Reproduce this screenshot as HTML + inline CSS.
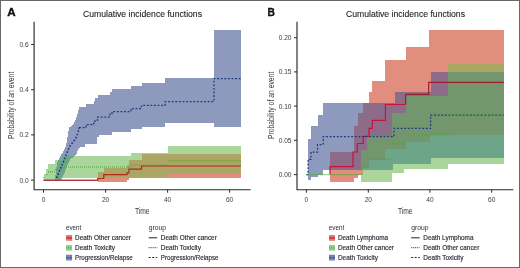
<!DOCTYPE html>
<html lang="en">
<head>
<meta charset="utf-8">
<title>Cumulative incidence functions</title>
<style>
html,body{margin:0;padding:0;background:#fff;}
body{width:520px;height:268px;overflow:hidden;position:relative;font-family:"Liberation Sans",sans-serif;}
#fig{position:absolute;left:0;top:0;width:520px;height:268px;box-sizing:border-box;border:1px solid #686868;background:#fff;}
svg{position:absolute;left:0;top:0;display:block;}
text{font-family:"Liberation Sans",sans-serif;fill:#2b2b2b;}
.tk{font-size:6.6px;fill:#3c3c3c;}
.lg{font-size:6.9px;fill:#262a33;stroke:#262a33;stroke-width:0.15px;}
.lt{font-size:6.4px;fill:#2c2f36;}
.ti{font-size:8.8px;fill:#1c1c1c;stroke:#1c1c1c;stroke-width:0.1px;}
.al{font-size:9.5px;fill:#383838;}
.pl{font-size:10px;font-weight:bold;fill:#111;stroke:#111;stroke-width:0.35px;}
</style>
</head>
<body>
<div id="fig"></div>
<svg width="520" height="268" viewBox="0 0 520 268">
<g shape-rendering="crispEdges">
<rect x="214" y="30" width="27" height="97" fill="#8e9abd"/>
<rect x="165" y="78" width="49" height="45" fill="#8e9abd"/>
<rect x="142" y="83" width="23" height="44" fill="#8e9abd"/>
<rect x="131" y="86" width="11" height="43" fill="#8e9abd"/>
<rect x="112" y="89" width="19" height="43" fill="#8e9abd"/>
<rect x="110" y="92" width="2" height="43" fill="#8e9abd"/>
<rect x="99" y="95" width="11" height="40" fill="#8e9abd"/>
<rect x="98" y="95" width="1" height="42" fill="#8e9abd"/>
<rect x="97" y="98" width="1" height="39" fill="#8e9abd"/>
<rect x="95" y="98" width="2" height="46" fill="#8e9abd"/>
<rect x="94" y="101" width="1" height="43" fill="#8e9abd"/>
<rect x="86" y="104" width="8" height="40" fill="#8e9abd"/>
<rect x="85" y="107" width="1" height="37" fill="#8e9abd"/>
<rect x="80" y="107" width="5" height="40" fill="#8e9abd"/>
<rect x="79" y="107" width="1" height="41" fill="#8e9abd"/>
<rect x="78" y="110" width="1" height="39" fill="#8e9abd"/>
<rect x="77" y="114" width="1" height="37" fill="#8e9abd"/>
<rect x="76" y="117" width="1" height="37" fill="#8e9abd"/>
<rect x="75" y="120" width="1" height="35" fill="#8e9abd"/>
<rect x="74" y="122" width="1" height="34" fill="#8e9abd"/>
<rect x="73" y="124" width="1" height="32" fill="#8e9abd"/>
<rect x="72" y="125" width="1" height="31" fill="#8e9abd"/>
<rect x="71" y="126" width="1" height="30" fill="#8e9abd"/>
<rect x="69" y="127" width="2" height="29" fill="#8e9abd"/>
<rect x="68" y="131" width="1" height="25" fill="#8e9abd"/>
<rect x="67" y="137" width="1" height="19" fill="#8e9abd"/>
<rect x="66" y="143" width="1" height="13" fill="#8e9abd"/>
<rect x="65" y="147" width="1" height="9" fill="#8e9abd"/>
<rect x="64" y="149" width="1" height="7" fill="#8e9abd"/>
<rect x="63" y="151" width="1" height="5" fill="#8e9abd"/>
<rect x="62" y="153" width="1" height="3" fill="#8e9abd"/>
<rect x="61" y="154" width="1" height="6" fill="#8e9abd"/>
<rect x="60" y="156" width="1" height="4" fill="#8e9abd"/>
<rect x="59" y="158" width="1" height="2" fill="#8e9abd"/>
<rect x="55" y="179" width="6" height="1" fill="#8e9abd"/>
<rect x="73" y="156" width="1" height="1" fill="#6ca587"/>
<rect x="71" y="156" width="2" height="2" fill="#6ca587"/>
<rect x="70" y="156" width="1" height="3" fill="#6ca587"/>
<rect x="69" y="156" width="1" height="5" fill="#6ca587"/>
<rect x="68" y="156" width="1" height="7" fill="#6ca587"/>
<rect x="67" y="156" width="1" height="9" fill="#6ca587"/>
<rect x="66" y="156" width="1" height="11" fill="#6ca587"/>
<rect x="65" y="156" width="1" height="14" fill="#6ca587"/>
<rect x="64" y="156" width="1" height="17" fill="#6ca587"/>
<rect x="63" y="156" width="1" height="19" fill="#6ca587"/>
<rect x="62" y="156" width="1" height="21" fill="#6ca587"/>
<rect x="58" y="160" width="4" height="19" fill="#6ca587"/>
<rect x="57" y="162" width="1" height="17" fill="#6ca587"/>
<rect x="56" y="167" width="1" height="12" fill="#6ca587"/>
<rect x="55" y="175" width="1" height="4" fill="#6ca587"/>
<rect x="168" y="146" width="73" height="8" fill="#aad69b"/>
<rect x="142" y="153" width="26" height="1" fill="#aad69b"/>
<rect x="131" y="153" width="11" height="7" fill="#aad69b"/>
<rect x="129" y="156" width="2" height="4" fill="#aad69b"/>
<rect x="127" y="156" width="2" height="9" fill="#aad69b"/>
<rect x="104" y="156" width="23" height="12" fill="#aad69b"/>
<rect x="98" y="156" width="6" height="16" fill="#aad69b"/>
<rect x="74" y="156" width="24" height="22" fill="#aad69b"/>
<rect x="73" y="157" width="1" height="21" fill="#aad69b"/>
<rect x="71" y="158" width="2" height="20" fill="#aad69b"/>
<rect x="70" y="159" width="1" height="19" fill="#aad69b"/>
<rect x="57" y="160" width="1" height="2" fill="#aad69b"/>
<rect x="56" y="160" width="1" height="7" fill="#aad69b"/>
<rect x="55" y="160" width="1" height="15" fill="#aad69b"/>
<rect x="69" y="161" width="1" height="17" fill="#aad69b"/>
<rect x="68" y="163" width="1" height="15" fill="#aad69b"/>
<rect x="48" y="164" width="7" height="16" fill="#aad69b"/>
<rect x="67" y="165" width="1" height="13" fill="#aad69b"/>
<rect x="66" y="167" width="1" height="11" fill="#aad69b"/>
<rect x="46" y="169" width="2" height="11" fill="#aad69b"/>
<rect x="65" y="170" width="1" height="8" fill="#aad69b"/>
<rect x="64" y="173" width="1" height="5" fill="#aad69b"/>
<rect x="44" y="174" width="2" height="6" fill="#aad69b"/>
<rect x="63" y="175" width="1" height="3" fill="#aad69b"/>
<rect x="62" y="177" width="1" height="1" fill="#aad69b"/>
<rect x="168" y="154" width="73" height="20" fill="#aca564"/>
<rect x="142" y="154" width="26" height="23" fill="#aca564"/>
<rect x="131" y="160" width="11" height="17" fill="#aca564"/>
<rect x="129" y="160" width="2" height="18" fill="#aca564"/>
<rect x="127" y="165" width="2" height="13" fill="#aca564"/>
<rect x="104" y="168" width="23" height="10" fill="#aca564"/>
<rect x="98" y="172" width="6" height="6" fill="#aca564"/>
<rect x="168" y="174" width="73" height="4" fill="#e28e7e"/>
<rect x="131" y="177" width="37" height="1" fill="#e28e7e"/>
<rect x="127" y="178" width="2" height="2" fill="#e28e7e"/>
<rect x="98" y="178" width="29" height="4" fill="#e28e7e"/>
</g>
<polyline points="43.5,180.3 97.7,180.3 97.7,178.5 103.8,178.5 103.8,174.6 127.0,174.6 127.0,172.8 129.0,172.8 129.0,169.2 141.5,169.2 141.5,166.0 240.8,166.0" fill="none" stroke="#ad2a1c" stroke-width="1.2"/>
<polyline points="43.5,180.3 97.2,180.3" fill="none" stroke="#a23a52" stroke-width="1.0"/>
<polyline points="56.6,178.0 59.0,172.0 62.0,165.0 65.0,158.0 67.5,151.5 70.0,146.0 73.0,142.0 75.5,139.0 77.5,134.0 78.6,130.5 79.1,127.5" fill="none" stroke="#1F3A7D" stroke-width="1.6" stroke-dasharray="1.7 1.7"/>
<polyline points="79.1,127.5 86.0,127.7 86.0,124.6 93.8,124.6 93.8,121.0 97.5,121.0 97.5,117.0 110.0,117.0 110.0,113.5 112.0,113.5 112.0,111.5 131.0,111.5 131.0,108.5 141.5,108.5 141.5,105.4 165.0,105.4 165.0,101.5 214.0,101.5 214.0,78.5 240.8,78.5" fill="none" stroke="#1F3A7D" stroke-width="1.25" stroke-dasharray="1.9 1.7"/>
<path d="M43.5,177.5H45.5M45.5,174.7H48.0M48.0,171.9H54.9M54.9,169.5H62.0M62.0,167.0H130.8M130.8,165.0H167.6M167.6,160.8H240.8" fill="none" stroke="#4aa536" stroke-width="1.1" stroke-dasharray="1 1"/>
<g shape-rendering="crispEdges">
<rect x="358" y="103" width="5" height="10" fill="#8e9abd"/>
<rect x="354" y="103" width="4" height="23" fill="#8e9abd"/>
<rect x="330" y="103" width="24" height="49" fill="#8e9abd"/>
<rect x="323" y="103" width="7" height="67" fill="#8e9abd"/>
<rect x="318" y="115" width="5" height="60" fill="#8e9abd"/>
<rect x="311" y="126" width="7" height="51" fill="#8e9abd"/>
<rect x="308" y="139" width="3" height="41" fill="#8e9abd"/>
<rect x="431" y="135" width="73" height="23" fill="#6ca587"/>
<rect x="430" y="135" width="1" height="29" fill="#6ca587"/>
<rect x="406" y="142" width="24" height="22" fill="#6ca587"/>
<rect x="393" y="149" width="13" height="15" fill="#6ca587"/>
<rect x="385" y="149" width="8" height="21" fill="#6ca587"/>
<rect x="369" y="160" width="16" height="10" fill="#6ca587"/>
<rect x="363" y="168" width="6" height="2" fill="#6ca587"/>
<rect x="448" y="72" width="56" height="63" fill="#73966e"/>
<rect x="430" y="96" width="18" height="39" fill="#73966e"/>
<rect x="406" y="96" width="24" height="46" fill="#73966e"/>
<rect x="392" y="113" width="14" height="36" fill="#73966e"/>
<rect x="385" y="136" width="7" height="13" fill="#73966e"/>
<rect x="369" y="136" width="16" height="24" fill="#73966e"/>
<rect x="367" y="136" width="2" height="32" fill="#73966e"/>
<rect x="363" y="150" width="4" height="18" fill="#73966e"/>
<rect x="361" y="150" width="2" height="20" fill="#73966e"/>
<rect x="431" y="72" width="17" height="24" fill="#8d6c89"/>
<rect x="406" y="92" width="25" height="4" fill="#8d6c89"/>
<rect x="395" y="92" width="11" height="21" fill="#8d6c89"/>
<rect x="392" y="103" width="3" height="10" fill="#8d6c89"/>
<rect x="367" y="103" width="25" height="33" fill="#8d6c89"/>
<rect x="363" y="103" width="4" height="47" fill="#8d6c89"/>
<rect x="361" y="113" width="2" height="37" fill="#8d6c89"/>
<rect x="358" y="113" width="3" height="57" fill="#8d6c89"/>
<rect x="354" y="126" width="4" height="44" fill="#8d6c89"/>
<rect x="330" y="152" width="24" height="18" fill="#8d6c89"/>
<rect x="448" y="158" width="56" height="6" fill="#aad69b"/>
<rect x="431" y="158" width="17" height="11" fill="#aad69b"/>
<rect x="404" y="164" width="27" height="5" fill="#aad69b"/>
<rect x="393" y="164" width="11" height="9" fill="#aad69b"/>
<rect x="392" y="170" width="1" height="3" fill="#aad69b"/>
<rect x="363" y="170" width="29" height="12" fill="#aad69b"/>
<rect x="361" y="175" width="2" height="7" fill="#aad69b"/>
<rect x="448" y="64" width="56" height="8" fill="#aca564"/>
<rect x="361" y="170" width="2" height="5" fill="#aca564"/>
<rect x="448" y="30" width="56" height="34" fill="#e28e7e"/>
<rect x="431" y="30" width="17" height="42" fill="#e28e7e"/>
<rect x="429" y="30" width="2" height="62" fill="#e28e7e"/>
<rect x="406" y="47" width="23" height="45" fill="#e28e7e"/>
<rect x="395" y="60" width="11" height="32" fill="#e28e7e"/>
<rect x="385" y="60" width="10" height="43" fill="#e28e7e"/>
<rect x="372" y="81" width="13" height="22" fill="#e28e7e"/>
<rect x="369" y="92" width="3" height="11" fill="#e28e7e"/>
<rect x="358" y="170" width="3" height="5" fill="#e28e7e"/>
<rect x="354" y="170" width="4" height="8" fill="#e28e7e"/>
<rect x="330" y="170" width="24" height="12" fill="#e28e7e"/>
</g>
<polyline points="330.0,174.6 330.0,166.6 353.0,166.6 353.0,152.0 357.3,152.0 357.3,143.5 363.3,143.5 363.3,136.4 369.0,136.4 369.0,128.3 372.3,128.3 372.3,120.3 385.4,120.3 385.4,104.5 405.6,104.5" fill="none" stroke="#c4143c" stroke-width="1.2"/>
<polyline points="405.6,104.5 405.6,104.5 405.6,94.4 428.7,94.4 428.7,82.3 503.7,82.3" fill="none" stroke="#9a1e28" stroke-width="1.2"/>
<polyline points="306.4,174.6 308.1,174.6 308.1,159.4 311.0,159.4 311.0,152.0 317.5,152.0 317.5,144.6 323.2,144.6 323.2,136.6 394.0,136.6 394.0,128.4 430.6,128.4 430.6,115.0 503.7,115.0" fill="none" stroke="#1F3A7D" stroke-width="1.25" stroke-dasharray="1.9 1.7"/>
<path d="M306.4,174.6H360.8M360.8,166.7H367.3M367.3,159.0H392.0M392.0,143.0H406.0M406.0,135.0H448.3M448.3,115.0H503.7" fill="none" stroke="#4aa536" stroke-width="1.1" stroke-dasharray="1 1"/>
<path d="M34.1,21.8 V189.7 H250.7" fill="none" stroke="#2a2a2a" stroke-width="1.15"/>
<line x1="31.1" x2="34.1" y1="44.5" y2="44.5" stroke="#2a2a2a" stroke-width="1"/>
<text x="28.6" y="46.9" text-anchor="end" class="tk">0.6</text>
<line x1="31.1" x2="34.1" y1="89.7" y2="89.7" stroke="#2a2a2a" stroke-width="1"/>
<text x="28.6" y="92.10000000000001" text-anchor="end" class="tk">0.4</text>
<line x1="31.1" x2="34.1" y1="134.9" y2="134.9" stroke="#2a2a2a" stroke-width="1"/>
<text x="28.6" y="137.3" text-anchor="end" class="tk">0.2</text>
<line x1="31.1" x2="34.1" y1="180.1" y2="180.1" stroke="#2a2a2a" stroke-width="1"/>
<text x="28.6" y="182.5" text-anchor="end" class="tk">0.0</text>
<line x1="43.5" x2="43.5" y1="189.7" y2="192.7" stroke="#2a2a2a" stroke-width="1"/>
<text x="43.5" y="202.29999999999998" text-anchor="middle" class="tk">0</text>
<line x1="105.6" x2="105.6" y1="189.7" y2="192.7" stroke="#2a2a2a" stroke-width="1"/>
<text x="105.6" y="202.29999999999998" text-anchor="middle" class="tk">20</text>
<line x1="167.6" x2="167.6" y1="189.7" y2="192.7" stroke="#2a2a2a" stroke-width="1"/>
<text x="167.6" y="202.29999999999998" text-anchor="middle" class="tk">40</text>
<line x1="229.6" x2="229.6" y1="189.7" y2="192.7" stroke="#2a2a2a" stroke-width="1"/>
<text x="229.6" y="202.29999999999998" text-anchor="middle" class="tk">60</text>
<path d="M297,21.8 V189.7 H513.3" fill="none" stroke="#2a2a2a" stroke-width="1.15"/>
<line x1="294" x2="297" y1="37.7" y2="37.7" stroke="#2a2a2a" stroke-width="1"/>
<text x="291.5" y="40.1" text-anchor="end" class="tk">0.20</text>
<line x1="294" x2="297" y1="71.9" y2="71.9" stroke="#2a2a2a" stroke-width="1"/>
<text x="291.5" y="74.30000000000001" text-anchor="end" class="tk">0.15</text>
<line x1="294" x2="297" y1="106.1" y2="106.1" stroke="#2a2a2a" stroke-width="1"/>
<text x="291.5" y="108.5" text-anchor="end" class="tk">0.10</text>
<line x1="294" x2="297" y1="140.3" y2="140.3" stroke="#2a2a2a" stroke-width="1"/>
<text x="291.5" y="142.70000000000002" text-anchor="end" class="tk">0.05</text>
<line x1="294" x2="297" y1="174.6" y2="174.6" stroke="#2a2a2a" stroke-width="1"/>
<text x="291.5" y="177.0" text-anchor="end" class="tk">0.00</text>
<line x1="306.4" x2="306.4" y1="189.7" y2="192.7" stroke="#2a2a2a" stroke-width="1"/>
<text x="306.4" y="202.29999999999998" text-anchor="middle" class="tk">0</text>
<line x1="368.3" x2="368.3" y1="189.7" y2="192.7" stroke="#2a2a2a" stroke-width="1"/>
<text x="368.3" y="202.29999999999998" text-anchor="middle" class="tk">20</text>
<line x1="429.9" x2="429.9" y1="189.7" y2="192.7" stroke="#2a2a2a" stroke-width="1"/>
<text x="429.9" y="202.29999999999998" text-anchor="middle" class="tk">40</text>
<line x1="491.7" x2="491.7" y1="189.7" y2="192.7" stroke="#2a2a2a" stroke-width="1"/>
<text x="491.7" y="202.29999999999998" text-anchor="middle" class="tk">60</text>
<text x="7.3" y="16.3" class="pl" textLength="8.4" lengthAdjust="spacingAndGlyphs">A</text>
<text x="267.6" y="16.3" class="pl" textLength="7.4" lengthAdjust="spacingAndGlyphs">B</text>
<text x="83" y="16.6" class="ti" textLength="119" lengthAdjust="spacingAndGlyphs">Cumulative incidence functions</text>
<text x="346" y="16.6" class="ti" textLength="119" lengthAdjust="spacingAndGlyphs">Cumulative incidence functions</text>
<text transform="translate(14.1,139.1) rotate(-90)" class="al" textLength="67.4" lengthAdjust="spacingAndGlyphs">Probability of an event</text>
<text transform="translate(273.6,139.1) rotate(-90)" class="al" textLength="67.4" lengthAdjust="spacingAndGlyphs">Probability of an event</text>
<text x="134.9" y="213.7" class="al" textLength="14.7" lengthAdjust="spacingAndGlyphs">Time</text>
<text x="397.9" y="213.7" class="al" textLength="14.7" lengthAdjust="spacingAndGlyphs">Time</text>
<text x="65.89999999999999" y="230.1" class="lt" textLength="15.4" lengthAdjust="spacingAndGlyphs">event</text>
<text x="148.7" y="230.1" class="lt" textLength="17.3" lengthAdjust="spacingAndGlyphs">group</text>
<rect x="66.1" y="235.0" width="6" height="5.8" fill="#e47870"/>
<line x1="66.1" x2="72.1" y1="238.0" y2="238.0" stroke="#BF1538" stroke-width="1.1"/>
<text x="75.0" y="240.3" class="lg" textLength="56" lengthAdjust="spacingAndGlyphs">Death Other cancer</text>
<line x1="148.7" x2="157.2" y1="237.8" y2="237.8" stroke="#222" stroke-width="1"/>
<text x="160.79999999999998" y="240.3" class="lg" textLength="56" lengthAdjust="spacingAndGlyphs">Death Other cancer</text>
<rect x="66.1" y="244.89999999999998" width="6" height="5.8" fill="#96cd87"/>
<line x1="66.1" x2="72.1" y1="247.89999999999998" y2="247.89999999999998" stroke="#4aa536" stroke-width="1.1" stroke-dasharray="1 1"/>
<text x="75.0" y="250.2" class="lg" textLength="40.1" lengthAdjust="spacingAndGlyphs">Death Toxicity</text>
<line x1="148.7" x2="157.2" y1="247.7" y2="247.7" stroke="#222" stroke-width="1" stroke-dasharray="1 1"/>
<text x="160.79999999999998" y="250.2" class="lg" textLength="40.1" lengthAdjust="spacingAndGlyphs">Death Toxicity</text>
<rect x="66.1" y="254.7" width="6" height="5.8" fill="#7684b6"/>
<line x1="66.1" x2="72.1" y1="257.7" y2="257.7" stroke="#1F3A7D" stroke-width="1.1" stroke-dasharray="2 1.5"/>
<text x="75.0" y="260.0" class="lg" textLength="57.7" lengthAdjust="spacingAndGlyphs">Progression/Relapse</text>
<line x1="148.7" x2="157.2" y1="257.5" y2="257.5" stroke="#222" stroke-width="1" stroke-dasharray="2 1.5"/>
<text x="160.79999999999998" y="260.0" class="lg" textLength="57.7" lengthAdjust="spacingAndGlyphs">Progression/Relapse</text>
<text x="328.8" y="230.1" class="lt" textLength="15.4" lengthAdjust="spacingAndGlyphs">event</text>
<text x="411.2" y="230.1" class="lt" textLength="17.3" lengthAdjust="spacingAndGlyphs">group</text>
<rect x="329.0" y="235.0" width="6" height="5.8" fill="#e47870"/>
<line x1="329.0" x2="335.0" y1="238.0" y2="238.0" stroke="#BF1538" stroke-width="1.1"/>
<text x="337.9" y="240.3" class="lg" textLength="50.2" lengthAdjust="spacingAndGlyphs">Death Lymphoma</text>
<line x1="411.2" x2="419.7" y1="237.8" y2="237.8" stroke="#222" stroke-width="1"/>
<text x="423.3" y="240.3" class="lg" textLength="50.2" lengthAdjust="spacingAndGlyphs">Death Lymphoma</text>
<rect x="329.0" y="244.89999999999998" width="6" height="5.8" fill="#96cd87"/>
<line x1="329.0" x2="335.0" y1="247.89999999999998" y2="247.89999999999998" stroke="#4aa536" stroke-width="1.1" stroke-dasharray="1 1"/>
<text x="337.9" y="250.2" class="lg" textLength="56" lengthAdjust="spacingAndGlyphs">Death Other cancer</text>
<line x1="411.2" x2="419.7" y1="247.7" y2="247.7" stroke="#222" stroke-width="1" stroke-dasharray="1 1"/>
<text x="423.3" y="250.2" class="lg" textLength="56" lengthAdjust="spacingAndGlyphs">Death Other cancer</text>
<rect x="329.0" y="254.7" width="6" height="5.8" fill="#7684b6"/>
<line x1="329.0" x2="335.0" y1="257.7" y2="257.7" stroke="#1F3A7D" stroke-width="1.1" stroke-dasharray="2 1.5"/>
<text x="337.9" y="260.0" class="lg" textLength="40.1" lengthAdjust="spacingAndGlyphs">Death Toxicity</text>
<line x1="411.2" x2="419.7" y1="257.5" y2="257.5" stroke="#222" stroke-width="1" stroke-dasharray="2 1.5"/>
<text x="423.3" y="260.0" class="lg" textLength="40.1" lengthAdjust="spacingAndGlyphs">Death Toxicity</text>
</svg>
</body>
</html>
